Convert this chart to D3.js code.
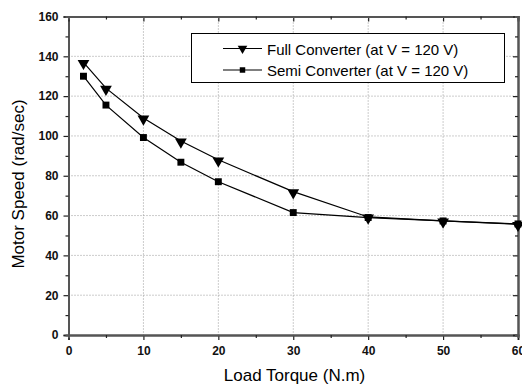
<!DOCTYPE html>
<html>
<head>
<meta charset="utf-8">
<script src="https://cdn.jsdelivr.net/npm/d3@7"></script>
<style>
  body { margin: 0; background: #fff; }
  text { font-family: Arial, "Liberation Sans", sans-serif; }
</style>
</head>
<body>
<script>
// Data
var torque = [2, 5, 10, 15, 20, 30, 40, 50, 60];
var fullSpeed = [137, 124, 109, 97.5, 88, 72, 59.3, 57.3, 55.6];
var semiSpeed = [130, 115.5, 99.2, 86.8, 77, 61.5, 59, 57.3, 55.8];
var xTicks = [0, 10, 20, 30, 40, 50, 60];
var yTicks = [0, 20, 40, 60, 80, 100, 120, 140, 160];
var seriesNames = ["Full Converter (at V = 120 V)", "Semi Converter (at V = 120 V)"];

var width = 522, height = 387;
var pLeft = 68.5, pRight = 518, pTop = 16.5, pBottom = 335;

var x = d3.scaleLinear().domain([0, 60]).range([pLeft, pRight]);
var y = d3.scaleLinear().domain([0, 160]).range([pBottom, pTop]);

var svg = d3.select("body").append("svg").attr("width", width).attr("height", height);

// Gitterlinjer
svg.append("g").selectAll("line")
  .data(xTicks.slice(1, -1))
  .enter().append("line")
  .attr("x1", function(d) { return x(d); })
  .attr("x2", function(d) { return x(d); })
  .attr("y1", pTop).attr("y2", pBottom)
  .attr("stroke", "#999").attr("stroke-width", 1).attr("stroke-dasharray", "1,2");

svg.append("g").selectAll("line")
  .data(yTicks.slice(1, -1))
  .enter().append("line")
  .attr("y1", function(d) { return y(d); })
  .attr("y2", function(d) { return y(d); })
  .attr("x1", pLeft).attr("x2", pRight)
  .attr("stroke", "#999").attr("stroke-width", 1).attr("stroke-dasharray", "1,2");

// Akser
var minorX = d3.range(5, 60, 10);
var minorY = d3.range(10, 160, 20);

svg.append("g").attr("transform", "translate(0," + pBottom + ")")
  .call(d3.axisBottom(x).tickValues(xTicks).tickSize(5).tickPadding(6));
svg.append("g").attr("transform", "translate(" + pLeft + ",0)")
  .call(d3.axisLeft(y).tickValues(yTicks).tickSize(5).tickPadding(5));
svg.append("g").attr("transform", "translate(0," + pBottom + ")")
  .call(d3.axisBottom(x).tickValues(minorX).tickSize(3).tickFormat(""));
svg.append("g").attr("transform", "translate(" + pLeft + ",0)")
  .call(d3.axisLeft(y).tickValues(minorY).tickSize(3).tickFormat(""));
// top og højre spejlakser, tick indad
svg.append("g").attr("transform", "translate(0," + pTop + ")")
  .call(d3.axisBottom(x).tickValues(xTicks).tickSize(5).tickFormat(""));
svg.append("g").attr("transform", "translate(0," + pTop + ")")
  .call(d3.axisBottom(x).tickValues(minorX).tickSize(3).tickFormat(""));
svg.append("g").attr("transform", "translate(" + pRight + ",0)")
  .call(d3.axisLeft(y).tickValues(yTicks).tickSize(5).tickFormat(""));
svg.append("g").attr("transform", "translate(" + pRight + ",0)")
  .call(d3.axisLeft(y).tickValues(minorY).tickSize(3).tickFormat(""));

svg.selectAll(".domain").attr("stroke", "#555").attr("stroke-width", 2);
svg.selectAll(".tick line").attr("stroke", "#222").attr("stroke-width", 1.2);
svg.selectAll(".tick text").attr("font-size", 12).attr("font-weight", "bold")
  .attr("fill", "#111").attr("font-family", "Arial, 'Liberation Sans', sans-serif");

// Aksetitler
svg.append("text").attr("x", 294.5).attr("y", 381)
  .attr("text-anchor", "middle").attr("font-size", 17).text("Load Torque (N.m)");
svg.append("text").attr("transform", "translate(24," + 184 + ") rotate(-90)")
  .attr("text-anchor", "middle").attr("font-size", 17).text("Motor Speed (rad/sec)");

// Linjer og markører
var line = d3.line()
  .x(function(d) { return x(d[0]); })
  .y(function(d) { return y(d[1]); });

var fullData = torque.map(function(t, i) { return [t, fullSpeed[i]]; });
var semiData = torque.map(function(t, i) { return [t, semiSpeed[i]]; });

var tri = d3.symbol().type(d3.symbolTriangle).size(60);
var sq = d3.symbol().type(d3.symbolSquare).size(48);

svg.append("path").datum(semiData).attr("d", line)
  .attr("fill", "none").attr("stroke", "#000").attr("stroke-width", 1.2);
svg.append("path").datum(fullData).attr("d", line)
  .attr("fill", "none").attr("stroke", "#000").attr("stroke-width", 1.2);

svg.selectAll(".sq").data(semiData).enter().append("path")
  .attr("class", "sq").attr("d", sq)
  .attr("transform", function(d) { return "translate(" + x(d[0]) + "," + y(d[1]) + ")"; })
  .attr("fill", "#000");
svg.selectAll(".tri").data(fullData).enter().append("path")
  .attr("class", "tri").attr("d", tri)
  .attr("transform", function(d) { return "translate(" + x(d[0]) + "," + (y(d[1]) + 1) + ") rotate(180)"; })
  .attr("fill", "#000");

// Forklaring
var lg = svg.append("g");
lg.append("rect").attr("x", 191.5).attr("y", 33.5).attr("width", 313).attr("height", 49)
  .attr("fill", "#fff").attr("stroke", "#000").attr("stroke-width", 1);
[0, 1].forEach(function(i) {
  var yy = 48.5 + i * 21.5;
  lg.append("line").attr("x1", 223).attr("x2", 262).attr("y1", yy).attr("y2", yy)
    .attr("stroke", "#000").attr("stroke-width", 1.2);
  lg.append("path").attr("d", i === 0 ? d3.symbol().type(d3.symbolTriangle).size(40)() : d3.symbol().type(d3.symbolSquare).size(30)())
    .attr("transform", "translate(242.5," + yy + ")" + (i === 0 ? " rotate(180)" : ""))
    .attr("fill", "#000");
  lg.append("text").attr("x", 267).attr("y", yy + 6).attr("font-size", 15).text(seriesNames[i]);
});
</script>
</body>
</html>
